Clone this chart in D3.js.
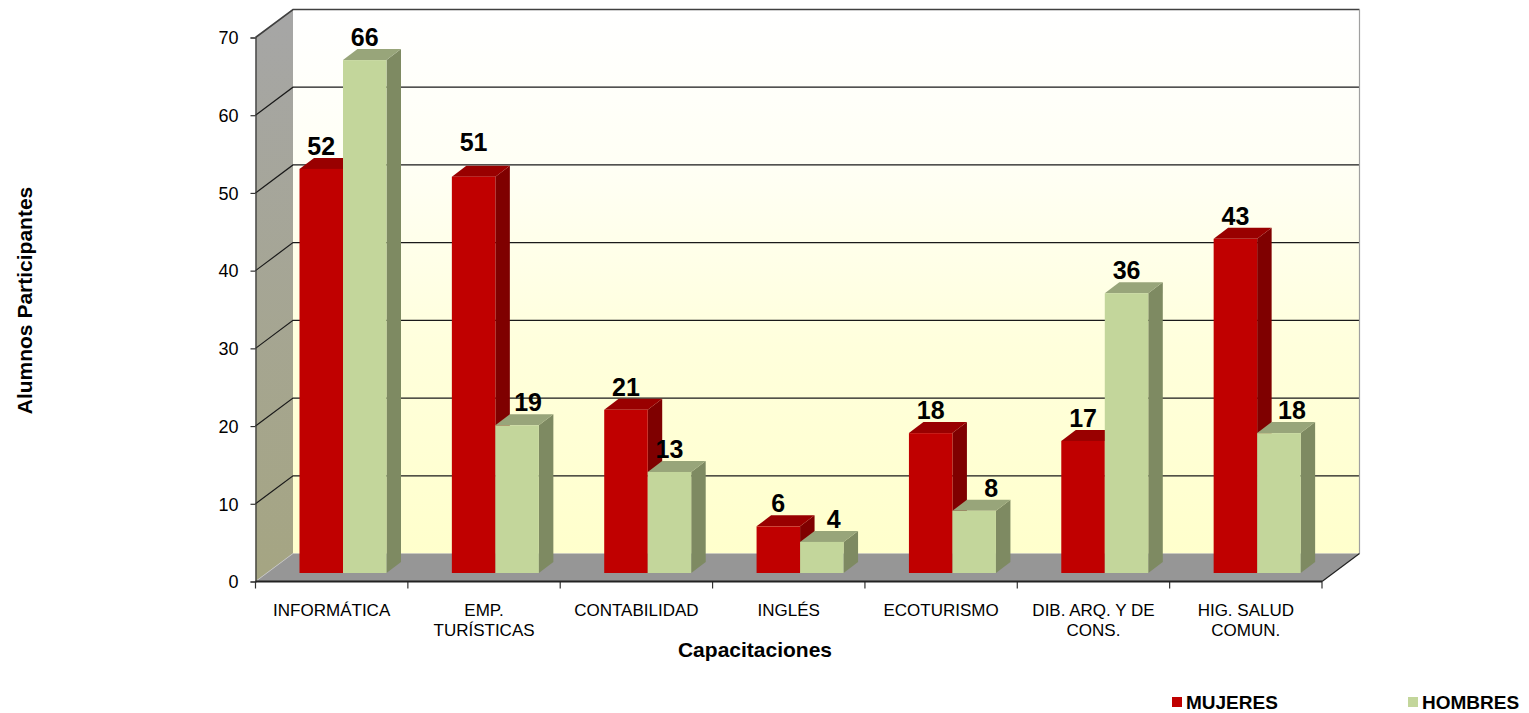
<!DOCTYPE html>
<html><head><meta charset="utf-8">
<script src="https://cdn.jsdelivr.net/npm/d3@7"></script>
<style>html,body{margin:0;background:#fff}svg{display:block}text{font-family:"Liberation Sans",Arial,sans-serif;fill:#000}</style>
</head><body><svg id="c" width="1529" height="713"></svg>
<script>
const categories=[["INFORMÁTICA"],["EMP.","TURÍSTICAS"],["CONTABILIDAD"],["INGLÉS"],["ECOTURISMO"],["DIB. ARQ. Y DE","CONS."],["HIG. SALUD","COMUN."]];
const mujeres=[52,51,21,6,18,17,43];
const hombres=[66,19,13,4,8,36,18];
const yTicks=[0,10,20,30,40,50,60,70];
const hombresLabelNudge=[0,11,0,12,17,0,13];
const mujeresLabelLift=[0,12,0,0,0,0,0];

const svg=d3.select("#c");
const L=255.5,R=1322,B=581.5,T=37.5,DX=37.5,DY=28;
const y=d3.scaleLinear().domain([0,70]).range([B,T]);
const names=d3.range(categories.length);
const x=d3.scaleBand().domain(names).range([L,R]);
const series=d3.scaleBand().domain([0,1]).range([44,44+87]);
const barBase=8.5, bdx=14.5, bdy=11;

const defs=svg.append("defs");
const g1=defs.append("linearGradient").attr("id","wall").attr("x1",0).attr("y1",0).attr("x2",0).attr("y2",1);
g1.append("stop").attr("offset",0).attr("stop-color","#ffffff");
g1.append("stop").attr("offset",0.3).attr("stop-color","#fffff4");
g1.append("stop").attr("offset",0.62).attr("stop-color","#ffffdc");
g1.append("stop").attr("offset",1).attr("stop-color","#ffffcc");
const g2=defs.append("linearGradient").attr("id","side").attr("x1",0).attr("y1",0).attr("x2",0).attr("y2",1);
g2.append("stop").attr("offset",0).attr("stop-color","#a6a6a6");
g2.append("stop").attr("offset",1).attr("stop-color","#a5a582");

const poly=p=>p.map(d=>d.join(",")).join(" ");
svg.append("polygon").attr("points",poly([[L+DX,y(70)-DY],[R+DX,y(70)-DY],[R+DX,y(0)-DY],[L+DX,y(0)-DY]])).attr("fill","url(#wall)");
svg.append("polygon").attr("points",poly([[L,y(70)],[L+DX,y(70)-DY],[L+DX,y(0)-DY],[L,y(0)]])).attr("fill","url(#side)");
svg.append("polygon").attr("points",poly([[L,y(0)],[L+DX,y(0)-DY],[R+DX,y(0)-DY],[R,y(0)]])).attr("fill","#969696");

yTicks.filter(t=>t>0).forEach(t=>{
  svg.append("polyline").attr("points",poly([[L,y(t)],[L+DX,y(t)-DY],[R+DX,y(t)-DY]]))
    .attr("fill","none").attr("stroke",t===70?"#404040":"#1a1a1a").attr("stroke-width",t===70?1.6:1.2);
});
svg.append("line").attr("x1",R+DX).attr("x2",R+DX).attr("y1",y(70)-DY).attr("y2",y(0)-DY).attr("stroke","#a0a0a0").attr("stroke-width",1.2);
svg.append("line").attr("x1",L+DX).attr("x2",L).attr("y1",y(0)-DY).attr("y2",y(0)).attr("stroke","#c8c8c8").attr("stroke-width",0.8);
svg.append("line").attr("x1",R+DX).attr("x2",R).attr("y1",y(0)-DY).attr("y2",y(0)).attr("stroke","#222").attr("stroke-width",1.2);

const colors=[{f:"#c00000",t:"#990000",s:"#7f0000"},{f:"#c3d69b",t:"#98a57a",s:"#7e8a62"}];
const labels=[];
names.forEach(i=>{
  [mujeres[i],hombres[i]].forEach((v,k)=>{
    const x0=x(i)+series(k),x1=x0+series.bandwidth();
    const yb=y(0)-barBase,yt=y(v)-barBase,c=colors[k];
    svg.append("polygon").attr("points",poly([[x1,yt],[x1+bdx,yt-bdy],[x1+bdx,yb-bdy],[x1,yb]])).attr("fill",c.s);
    svg.append("polygon").attr("points",poly([[x0,yt],[x0+bdx,yt-bdy],[x1+bdx,yt-bdy],[x1,yt]])).attr("fill",c.t);
    svg.append("rect").attr("x",x0).attr("y",yt).attr("width",x1-x0).attr("height",yb-yt).attr("fill",c.f);
    labels.push({v,x:(x0+x1)/2+(k?hombresLabelNudge[i]:0),y:yt-14-(k?0:mujeresLabelLift[i])});
  });
});
svg.selectAll("text.v").data(labels).join("text").attr("class","v")
  .attr("x",d=>d.x).attr("y",d=>d.y).attr("text-anchor","middle")
  .attr("font-size",25).attr("font-weight","bold").text(d=>d.v);

const ax=svg.append("g").attr("transform",`translate(${L},0)`).call(d3.axisLeft(y).tickValues(yTicks).tickSize(5).tickPadding(12).tickFormat(d3.format("d")));
ax.selectAll("text").attr("font-size",18).style("font-family",'"Liberation Sans",Arial,sans-serif').attr("fill","#000").attr("dy","0.35em");
ax.selectAll("path,line").attr("stroke","#333").attr("stroke-width",1.2);

const tickX=[...names.map(i=>x(i)),R];
svg.selectAll("line.xt").data(tickX).join("line").attr("class","xt")
  .attr("x1",d=>d).attr("x2",d=>d).attr("y1",B).attr("y2",B+7).attr("stroke","#333").attr("stroke-width",1.2);
svg.append("line").attr("x1",L).attr("x2",R).attr("y1",B).attr("y2",B).attr("stroke","#222").attr("stroke-width",2);

names.forEach(i=>{
  const t=svg.append("text").attr("text-anchor","middle").attr("font-size",17);
  categories[i].forEach((s,j)=>t.append("tspan").attr("x",x(i)+x.bandwidth()/2).attr("y",616+j*20).text(s));
});
svg.append("text").attr("x",755).attr("y",657).attr("text-anchor","middle").attr("font-size",21).attr("font-weight","bold").text("Capacitaciones");
svg.append("text").attr("transform","translate(32,300.5) rotate(-90)").attr("text-anchor","middle").attr("font-size",21).attr("font-weight","bold").text("Alumnos Participantes");

[["MUJERES",1172,colors[0].f],["HOMBRES",1408,colors[1].f]].forEach(([n,lx,c])=>{
  svg.append("rect").attr("x",lx).attr("y",697).attr("width",10).attr("height",10).attr("fill",c);
  svg.append("text").attr("x",lx+14).attr("y",709).attr("font-size",19).attr("font-weight","bold").text(n);
});
</script></body></html>
